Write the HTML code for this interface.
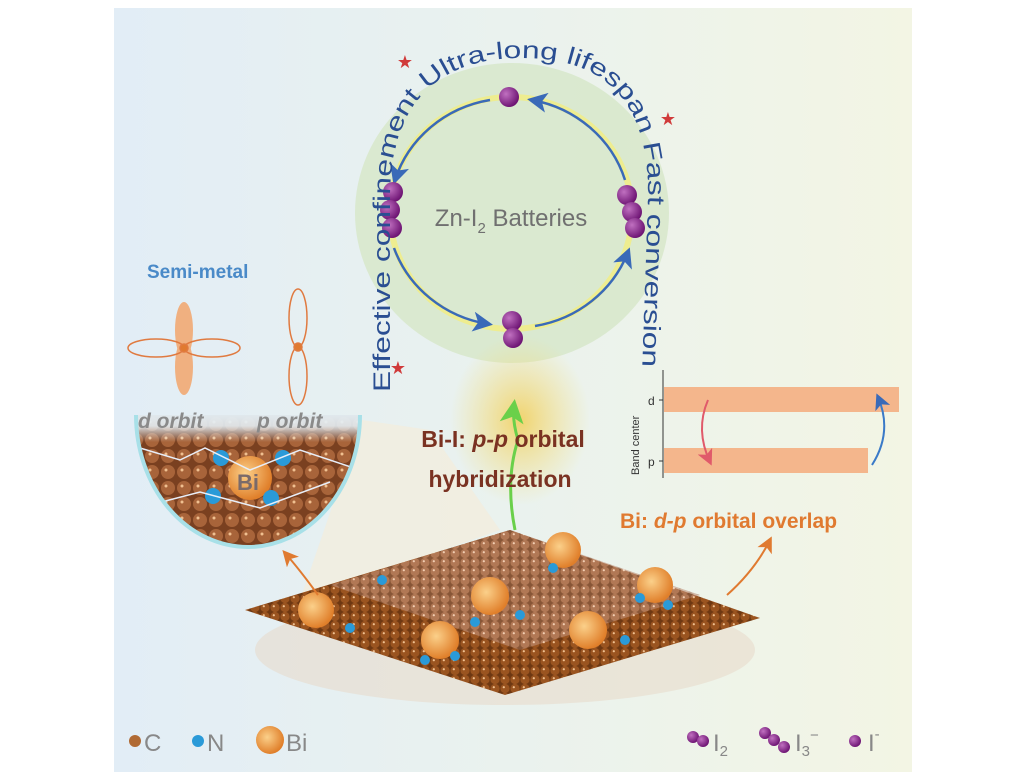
<!DOCTYPE html>
<html><head><meta charset="utf-8"><style>
html,body{margin:0;padding:0;background:#fff;width:1024px;height:773px;overflow:hidden}
svg{display:block}
text{font-family:"Liberation Sans",sans-serif}
</style></head><body>
<svg width="1024" height="773" viewBox="0 0 1024 773" xmlns="http://www.w3.org/2000/svg">
<defs>
<linearGradient id="bg" x1="0" y1="0" x2="1" y2="0">
<stop offset="0" stop-color="#e2edf6"/><stop offset="0.5" stop-color="#eaf2ee"/><stop offset="1" stop-color="#f3f5e4"/>
</linearGradient>
<radialGradient id="glow" cx="0.5" cy="0.5" r="0.5">
<stop offset="0" stop-color="#f2d060" stop-opacity="0.9"/><stop offset="1" stop-color="#f2e080" stop-opacity="0"/>
</radialGradient>
<radialGradient id="pur" cx="0.35" cy="0.35" r="0.7">
<stop offset="0" stop-color="#c070c0"/><stop offset="1" stop-color="#6a1070"/>
</radialGradient>
<radialGradient id="bi" cx="0.4" cy="0.4" r="0.6">
<stop offset="0" stop-color="#fbd08a"/><stop offset="1" stop-color="#e07f2a"/>
</radialGradient>
<pattern id="dots" width="10" height="9" patternUnits="userSpaceOnUse">
<rect width="10" height="9" fill="#6e3812"/>
<circle cx="5" cy="4.5" r="4.6" fill="#9a5420"/>
<circle cx="3.8" cy="3.2" r="1.1" fill="#f0c090"/>
</pattern>
<pattern id="dotsL" width="10" height="9" patternUnits="userSpaceOnUse">
<rect width="10" height="9" fill="#9a6a50"/>
<circle cx="5" cy="4.5" r="4.6" fill="#c09078"/>
<circle cx="3.8" cy="3.2" r="1.1" fill="#f4d8c8"/>
</pattern>
<pattern id="dots2" width="16" height="16" patternUnits="userSpaceOnUse">
<rect width="16" height="16" fill="#7a4020"/>
<circle cx="8" cy="8" r="7" fill="#a8643a"/>
<circle cx="6" cy="6" r="1.5" fill="#f0c090"/>
</pattern>
<linearGradient id="fadeTop" x1="0" y1="0" x2="0" y2="1">
<stop offset="0" stop-color="#e4eef4" stop-opacity="1"/><stop offset="0.5" stop-color="#e4eef4" stop-opacity="0.9"/><stop offset="1" stop-color="#e4eef4" stop-opacity="0"/>
</linearGradient>
<marker id="ah" markerWidth="8" markerHeight="8" refX="6" refY="4" orient="auto"><path d="M0,0 L8,4 L0,8 L2,4z" fill="#3a6ab8"/></marker>
<marker id="ahr" markerWidth="8" markerHeight="8" refX="6" refY="4" orient="auto"><path d="M0,0 L8,4 L0,8 L2,4z" fill="#e05a6a"/></marker>
<marker id="aho" markerWidth="8" markerHeight="8" refX="6" refY="4" orient="auto"><path d="M0,0 L8,4 L0,8 L2,4z" fill="#e07a30"/></marker>
<marker id="ahg" markerWidth="8" markerHeight="8" refX="6" refY="4" orient="auto"><path d="M0,0 L8,4 L0,8 L2,4z" fill="#6ad04a"/></marker>
<clipPath id="bub"><path d="M136,415 A112,132 0 0 0 360,415 Z"/></clipPath>
</defs>
<rect x="114" y="8" width="798" height="764" fill="url(#bg)"/>
<!-- green disc -->
<ellipse cx="512" cy="213" rx="157" ry="150" fill="#d8e8cc" opacity="0.9"/>
<ellipse cx="520" cy="420" rx="70" ry="85" fill="url(#glow)"/>
<!-- ring -->
<ellipse cx="511" cy="213" rx="121" ry="116" fill="none" stroke="#f3ee80" stroke-width="6" opacity="0.8"/>
<path d="M490,100 A121,116 0 0 0 395,180" fill="none" stroke="#3a6ab8" stroke-width="2.5" marker-end="url(#ah)"/>
<path d="M625,180 A121,116 0 0 0 532,100" fill="none" stroke="#3a6ab8" stroke-width="2.5" marker-end="url(#ah)"/>
<path d="M394,248 A121,116 0 0 0 488,324" fill="none" stroke="#3a6ab8" stroke-width="2.5" marker-end="url(#ah)"/>
<path d="M535,326 A121,116 0 0 0 628,252" fill="none" stroke="#3a6ab8" stroke-width="2.5" marker-end="url(#ah)"/>
<circle cx="509" cy="97" r="10" fill="url(#pur)"/>
<circle cx="393" cy="192" r="10" fill="url(#pur)"/><circle cx="390" cy="210" r="10" fill="url(#pur)"/><circle cx="392" cy="228" r="10" fill="url(#pur)"/>
<circle cx="627" cy="195" r="10" fill="url(#pur)"/><circle cx="632" cy="212" r="10" fill="url(#pur)"/><circle cx="635" cy="228" r="10" fill="url(#pur)"/>
<circle cx="512" cy="321" r="10" fill="url(#pur)"/><circle cx="513" cy="338" r="10" fill="url(#pur)"/>
<text x="511" y="226" font-size="24" fill="#707070" text-anchor="middle">Zn-I<tspan font-size="15" dy="7">2</tspan><tspan dy="-7"> Batteries</tspan></text>
<!-- arc text -->
<path id="tp" d="M390,392 L390,200 C390,100 440,58 522,58 C604,58 650,100 648,200 L642,374" fill="none"/>
<text font-size="24" fill="#2a4e92"><textPath href="#tp" textLength="800" lengthAdjust="spacingAndGlyphs">Effective confinement    Ultra-long lifespan    Fast conversion</textPath></text>
<text x="405" y="68" font-size="18" fill="#d03a3a" text-anchor="middle">★</text>
<text x="668" y="125" font-size="18" fill="#d03a3a" text-anchor="middle">★</text>
<text x="398" y="374" font-size="18" fill="#d03a3a" text-anchor="middle">★</text>
<!-- semi-metal -->
<text x="147" y="278" font-size="19" font-weight="bold" fill="#4a8ac8">Semi-metal</text>
<g stroke="#e07a40" stroke-width="1.5">
<ellipse cx="184" cy="330" rx="9" ry="28" fill="#f0b080" stroke="none"/>
<ellipse cx="184" cy="367" rx="9" ry="28" fill="#f0b080" stroke="none"/>
<ellipse cx="156" cy="348" rx="28" ry="9" fill="none"/>
<ellipse cx="212" cy="348" rx="28" ry="9" fill="none"/>
<circle cx="184" cy="348" r="4" fill="#e07a30"/>
<ellipse cx="298" cy="318" rx="9" ry="29" fill="none"/>
<ellipse cx="298" cy="376" rx="9" ry="29" fill="none"/>
<circle cx="298" cy="347" r="4" fill="#e07a30"/>
</g>
<!-- beam -->
<path d="M362,420 L430,430 L500,530 L300,600 Z" fill="#f4ecdc" opacity="0.7"/>
<!-- bubble -->
<g clip-path="url(#bub)"><rect x="130" y="410" width="240" height="140" fill="url(#dots2)"/>
<rect x="130" y="410" width="240" height="32" fill="url(#fadeTop)"/>
<circle cx="250" cy="478" r="22" fill="url(#bi)"/>
<circle cx="221" cy="458" r="8" fill="#2a9ad8"/><circle cx="283" cy="458" r="8" fill="#2a9ad8"/>
<circle cx="213" cy="496" r="8" fill="#2a9ad8"/><circle cx="271" cy="498" r="8" fill="#2a9ad8"/>
<path d="M140,448 L180,460 L205,448 L250,470 L300,450 L360,470 M150,505 L200,492 L260,508 L330,482" stroke="#e8eef8" stroke-width="1.5" fill="none"/>
</g>
<path d="M136,415 A112,132 0 0 0 360,415" fill="none" stroke="#a8e0e8" stroke-width="4"/>
<text x="248" y="490" font-size="22" font-weight="bold" fill="#7a6a6a" text-anchor="middle">Bi</text>
<text x="138" y="428" font-size="21" font-weight="bold" font-style="italic" fill="#8a8a8a">d orbit</text>
<text x="257" y="428" font-size="21" font-weight="bold" font-style="italic" fill="#8a8a8a">p orbit</text>
<!-- middle text -->
<path d="M515,530 Q505,480 518,440 Q512,420 514,405" fill="none" stroke="#6ad04a" stroke-width="3" marker-end="url(#ahg)"/>
<text x="503" y="447" font-size="23" font-weight="bold" fill="#7a3222" text-anchor="middle">Bi-I: <tspan font-style="italic">p-p</tspan> orbital</text>
<text x="500" y="487" font-size="23" font-weight="bold" fill="#7a3222" text-anchor="middle">hybridization</text>
<!-- chart -->
<line x1="663" y1="370" x2="663" y2="478" stroke="#333" stroke-width="1"/>
<line x1="659" y1="400" x2="663" y2="400" stroke="#333"/><line x1="659" y1="461" x2="663" y2="461" stroke="#333"/>
<rect x="664" y="387" width="235" height="25" fill="#f4b68c"/>
<rect x="664" y="448" width="204" height="25" fill="#f4b68c"/>
<text x="648" y="405" font-size="12" fill="#333">d</text>
<text x="648" y="466" font-size="12" fill="#333">p</text>
<text transform="translate(639,475) rotate(-90)" font-size="11" fill="#333">Band center</text>
<path d="M708,400 Q695,430 710,462" fill="none" stroke="#e05a6a" stroke-width="2" marker-end="url(#ahr)"/>
<path d="M872,465 Q893,432 878,397" fill="none" stroke="#3a7ac8" stroke-width="2" marker-end="url(#ah)"/>
<text x="620" y="528" font-size="21" font-weight="bold" fill="#e07a30">Bi: <tspan font-style="italic">d-p</tspan> orbital overlap</text>
<!-- nanosheet -->
<ellipse cx="505" cy="650" rx="250" ry="55" fill="#e8d8c8" opacity="0.55"/>
<polygon points="245,610 510,530 760,618 505,695" fill="url(#dots)"/>
<polygon points="330,585 510,530 700,595 520,650" fill="url(#dotsL)" opacity="0.6"/>
<g fill="url(#bi)">
<circle cx="316" cy="610" r="18"/><circle cx="490" cy="596" r="19"/>
<circle cx="655" cy="585" r="18"/><circle cx="440" cy="640" r="19"/><circle cx="588" cy="630" r="19"/><circle cx="563" cy="550" r="18"/>
</g>
<g fill="#2a9ad8">
<circle cx="382" cy="580" r="5"/><circle cx="553" cy="568" r="5"/><circle cx="640" cy="598" r="5"/><circle cx="350" cy="628" r="5"/><circle cx="475" cy="622" r="5"/><circle cx="520" cy="615" r="5"/><circle cx="625" cy="640" r="5"/><circle cx="425" cy="660" r="5"/><circle cx="455" cy="656" r="5"/><circle cx="668" cy="605" r="5"/>
</g>
<path d="M318,595 Q300,570 285,553" fill="none" stroke="#e07a30" stroke-width="2" marker-end="url(#aho)"/>
<path d="M727,595 Q755,570 770,540" fill="none" stroke="#e07a30" stroke-width="2" marker-end="url(#aho)"/>
<!-- legend -->
<circle cx="135" cy="741" r="6" fill="#b06a34"/>
<text x="144" y="751" font-size="24" fill="#888">C</text>
<circle cx="198" cy="741" r="6" fill="#2a9ad8"/>
<text x="207" y="751" font-size="24" fill="#888">N</text>
<circle cx="270" cy="740" r="14" fill="url(#bi)"/>
<text x="286" y="751" font-size="24" fill="#888">Bi</text>
<circle cx="693" cy="737" r="6" fill="url(#pur)"/><circle cx="703" cy="741" r="6" fill="url(#pur)"/>
<text x="713" y="751" font-size="24" fill="#888">I<tspan font-size="15" dy="5">2</tspan></text>
<circle cx="765" cy="733" r="6" fill="url(#pur)"/><circle cx="774" cy="740" r="6" fill="url(#pur)"/><circle cx="784" cy="747" r="6" fill="url(#pur)"/>
<text x="795" y="751" font-size="24" fill="#888">I<tspan font-size="15" dy="5">3</tspan><tspan font-size="15" dy="-16">−</tspan></text>
<circle cx="855" cy="741" r="6" fill="url(#pur)"/>
<text x="868" y="751" font-size="24" fill="#888">I<tspan font-size="15" dy="-12">-</tspan></text>
</svg>
</body></html>
